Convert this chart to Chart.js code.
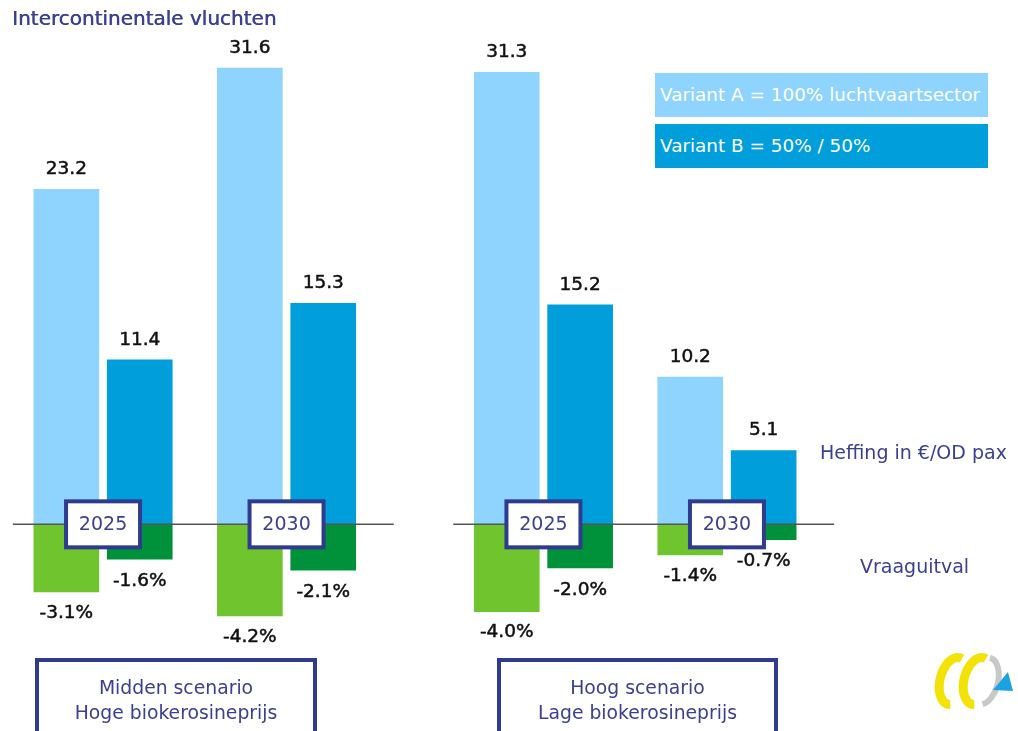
<!DOCTYPE html>
<html>
<head>
<meta charset="utf-8">
<title>Intercontinentale vluchten</title>
<script src="https://cdn.jsdelivr.net/npm/chart.js@4.4.0/dist/chart.umd.min.js"></script>
<style>
  html, body { margin: 0; padding: 0; background: #fff; }
  body { width: 1018px; height: 731px; position: relative; overflow: hidden; font-family: "DejaVu Sans", sans-serif; }
  #chart { position: absolute; left: 0; top: 0; }
  #logo { position: absolute; left: 928px; top: 650px; }
  .navy { position: absolute; color: #3b408f; white-space: nowrap; }
  .titel { left: 12px; top: 6px; font-size: 20px; text-shadow: 0.5px 0 0 #3b408f; }
  .zij { font-size: 19px; }
  .legenda { position: absolute; left: 655px; width: 333px; height: 44px; line-height: 44px; color: #fff; font-size: 18.4px; padding-left: 5px; box-sizing: border-box; white-space: nowrap; }
  .scenario { position: absolute; top: 658px; height: 90px; border: 4px solid #2f3b8e; box-sizing: border-box; text-align: center; color: #3b408f; font-size: 18.8px; line-height: 25px; padding-top: 13px; }
</style>
</head>
<body>
<canvas id="chart" width="1018" height="731"></canvas>
<canvas id="logo" width="90" height="65"></canvas>

<div class="navy titel">Intercontinentale vluchten</div>
<div class="legenda" style="top:73px; background:#8fd3ff;">Variant A = 100% luchtvaartsector</div>
<div class="legenda" style="top:124px; background:#009fdb;">Variant B = 50% / 50%</div>
<div class="navy zij" style="left:820px; top:441px;">Heffing in €/OD pax</div>
<div class="navy zij" style="left:860px; top:555px;">Vraaguitval</div>
<div class="scenario" style="left:35px; width:282px;">Midden scenario<br>Hoge biokerosineprijs</div>
<div class="scenario" style="left:497px; width:281px;">Hoog scenario<br>Lage biokerosineprijs</div>

<script>
// Gegevens (heffing in euro per OD pax, vraaguitval in %)
const groepen = ['Midden 2025', 'Midden 2030', 'Hoog 2025', 'Hoog 2030'];
const jaren = ['2025', '2030', '2025', '2030'];
const heffingA = [23.2, 31.6, 31.3, 10.2];
const heffingB = [11.4, 15.3, 15.2, 5.1];
const vraagA = [-3.1, -4.2, -4.0, -1.4];
const vraagB = [-1.6, -2.1, -2.0, -0.7];

// Indeling: elke groep krijgt een vak op de categorie-as, variant B twee vakken verder
const vakA = [0, 5, 12, 17];
const aantalVakken = 20;
const vakLabels = Array.from({ length: aantalVakken }, (_, i) => 'v' + i);

function verspreid(waarden, verschuiving) {
    const rij = new Array(aantalVakken).fill(null);
    waarden.forEach((v, i) => { rij[vakA[i] + verschuiving] = v; });
    return rij;
}

const kleuren = {
    lichtblauw: '#8fd3ff',
    donkerblauw: '#009fdb',
    lichtgroen: '#70c52e',
    donkergroen: '#00923a',
    navy: '#2f3b8e',
    tekst: '#3b408f'
};

const BREEDTE = 65;

function balk(label, data, kleur, as) {
    return {
        label: label,
        data: data,
        backgroundColor: kleur,
        yAxisID: as,
        grouped: false,
        barThickness: BREEDTE,
        borderWidth: 0,
        clip: false
    };
}

// tekst iets voller maken
function tekst(ctx, t, x, y, kleur) {
    ctx.fillStyle = kleur;
    ctx.strokeStyle = kleur;
    ctx.lineWidth = 0.5;
    ctx.fillText(t, x, y);
    ctx.strokeText(t, x, y);
}

// Labels, nullijnen en jaartal-kaders
const extraPlugin = {
    id: 'extra',
    afterDatasetsDraw(chart) {
        const ctx = chart.ctx;
        const xs = chart.scales.x;
        const y = chart.scales.y;
        const y2 = chart.scales.y2;
        const nul = y.getPixelForValue(0);
        const half = BREEDTE / 2;

        ctx.save();

        // nullijnen per scenario
        ctx.strokeStyle = '#555';
        ctx.lineWidth = 1.5;
        [[0, 1], [2, 3]].forEach(([a, b]) => {
            const links = xs.getPixelForValue(vakA[a]) - half - 21;
            const rechts = xs.getPixelForValue(vakA[b] + 2) + half + 38;
            ctx.beginPath();
            ctx.moveTo(links, nul);
            ctx.lineTo(rechts, nul);
            ctx.stroke();
        });

        // waardelabels
        ctx.textAlign = 'center';
        ctx.textBaseline = 'middle';
        ctx.font = '18.5px "DejaVu Sans"';
        groepen.forEach((g, i) => {
            const xa = xs.getPixelForValue(vakA[i]);
            const xb = xs.getPixelForValue(vakA[i] + 2);
            tekst(ctx, heffingA[i].toFixed(1), xa, y.getPixelForValue(heffingA[i]) - 20, '#111');
            tekst(ctx, heffingB[i].toFixed(1), xb, y.getPixelForValue(heffingB[i]) - 20, '#111');
            tekst(ctx, vraagA[i].toFixed(1) + '%', xa, y2.getPixelForValue(vraagA[i]) + 21, '#111');
            tekst(ctx, vraagB[i].toFixed(1) + '%', xb, y2.getPixelForValue(vraagB[i]) + 22, '#111');
        });

        // jaartal-kaders
        ctx.font = '19px "DejaVu Sans"';
        jaren.forEach((jaar, i) => {
            const midden = (xs.getPixelForValue(vakA[i]) + xs.getPixelForValue(vakA[i] + 2)) / 2;
            const w = 74, h = 46;
            ctx.fillStyle = '#fff';
            ctx.fillRect(midden - w / 2, nul - h / 2, w, h);
            ctx.strokeStyle = kleuren.navy;
            ctx.lineWidth = 4;
            ctx.strokeRect(midden - w / 2, nul - h / 2, w, h);
            ctx.fillStyle = kleuren.tekst;
            ctx.fillText(jaar, midden, nul + 1);
        });

        ctx.restore();
    }
};

const ctx = document.getElementById('chart').getContext('2d');
const grafiek = new Chart(ctx, {
    type: 'bar',
    data: {
        labels: vakLabels,
        datasets: [
            balk('Variant A heffing', verspreid(heffingA, 0), kleuren.lichtblauw, 'y'),
            balk('Variant B heffing', verspreid(heffingB, 2), kleuren.donkerblauw, 'y'),
            balk('Variant A vraaguitval', verspreid(vraagA, 0), kleuren.lichtgroen, 'y2'),
            balk('Variant B vraaguitval', verspreid(vraagB, 2), kleuren.donkergroen, 'y2')
        ]
    },
    options: {
        responsive: false,
        animation: false,
        devicePixelRatio: 1,
        layout: {
            padding: { left: 48, right: 236, top: 40, bottom: 51 }
        },
        scales: {
            x: { type: 'category', display: false, offset: true },
            y: { display: false, min: -10.78, max: 33.54 },
            y2: { display: false, position: 'right', min: -7.14, max: 22.22 }
        },
        plugins: {
            legend: { display: false },
            tooltip: { enabled: false }
        }
    },
    plugins: [extraPlugin]
});

// Logo rechtsonder
const lg = document.getElementById('logo').getContext('2d');
function ring(cx, kleur) {
    lg.save();
    lg.translate(cx, 31);
    lg.rotate(0.25);
    lg.strokeStyle = kleur;
    lg.lineWidth = 9;
    lg.beginPath();
    lg.ellipse(0, 0, 14, 24, 0, Math.PI * 0.45, Math.PI * 1.55);
    lg.stroke();
    lg.restore();
}
ring(26, '#f2e205');
ring(50, '#f2e205');
lg.save();
lg.translate(56, 31);
lg.rotate(0.25);
lg.strokeStyle = '#c8c8c8';
lg.lineWidth = 6;
lg.beginPath();
lg.ellipse(0, 0, 14, 24, 0, -Math.PI * 0.5, Math.PI * 0.4);
lg.stroke();
lg.restore();
lg.fillStyle = '#1aa3e0';
lg.beginPath();
lg.moveTo(80, 22);
lg.lineTo(85, 41);
lg.lineTo(65, 40);
lg.closePath();
lg.fill();
</script>
</body>
</html>
